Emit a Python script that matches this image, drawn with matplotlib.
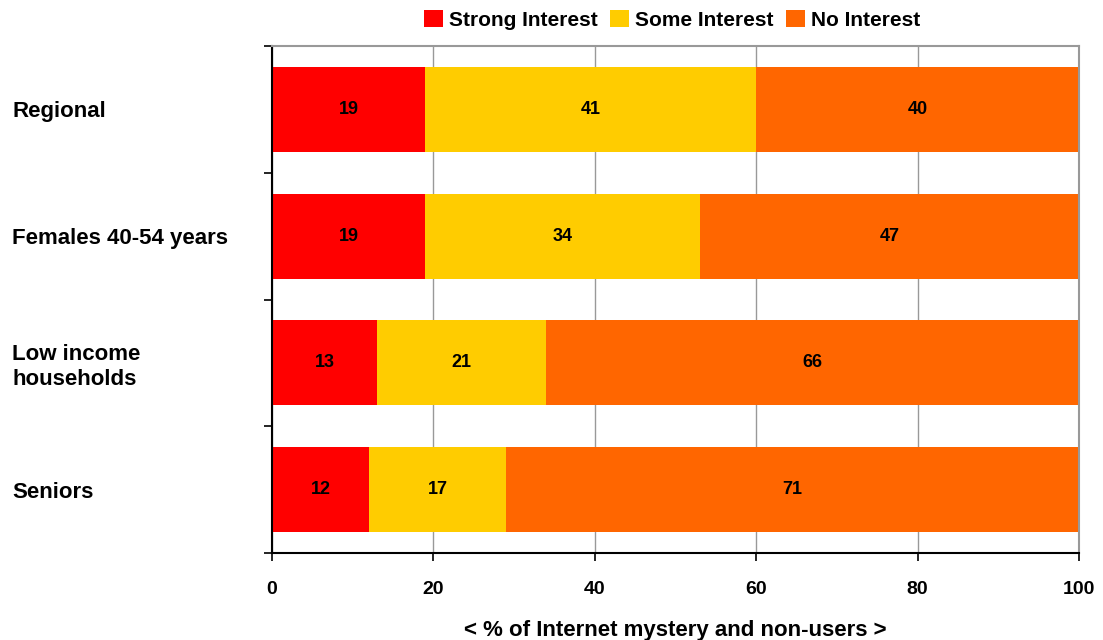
import numpy as np
import matplotlib.pyplot as plt

plt.rcParams['font.family'] = ['Liberation Sans', 'DejaVu Sans']
plt.rcParams['font.weight'] = 'bold'

# data
groups = ['Regional', 'Females 40-54 years', 'Low income\nhouseholds', 'Seniors']
strong = [19, 19, 13, 12]
some = [41, 34, 21, 17]
none_ = [40, 47, 66, 71]
series = [('Strong Interest', strong, '#FF0000'),
          ('Some Interest', some, '#FFCC00'),
          ('No Interest', none_, '#FF6600')]

fig = plt.figure(figsize=(11.03, 6.4), dpi=100)
ax = fig.add_axes([272/1103, 1-553/640, (1079-272)/1103, (553-46)/640])

y = np.arange(len(groups))
left = np.zeros(len(groups))
for name, vals, col in series:
    vals = np.array(vals)
    ax.barh(y, vals, left=left, height=0.67, color=col, label=name, zorder=2)
    for yi, l, v in zip(y, left, vals):
        ax.text(l + v / 2, yi, str(v), ha='center', va='center',
                fontsize=13, fontweight='bold', color='black', zorder=3)
    left += vals

ax.set_xlim(0, 100)
ax.set_ylim(len(groups) - 0.5, -0.5)
ax.set_xticks([0, 20, 40, 60, 80, 100])
ax.tick_params(axis='x', labelsize=14, length=6, width=1.2, direction='out', pad=14)
ax.grid(axis='x', color='#999999', linewidth=1, zorder=0)

# y ticks at boundaries, labels at centers
ax.set_yticks(np.arange(len(groups) + 1) - 0.5)
ax.set_yticklabels([])
ax.tick_params(axis='y', which='major', length=6, width=1.2, direction='out')
ax.set_yticks(y, minor=True)
ax.set_yticklabels(groups, minor=True, fontsize=16, fontweight='bold', ha='left')
ax.tick_params(axis='y', which='minor', length=0, pad=260 * 0.72)

for s in ['left', 'bottom']:
    ax.spines[s].set_color('black')
    ax.spines[s].set_linewidth(1.5)
for s in ['top', 'right']:
    ax.spines[s].set_color('#999999')
    ax.spines[s].set_linewidth(1.5)

ax.set_xlabel('< % of Internet mystery and non-users >', fontsize=16,
              fontweight='bold', labelpad=16)

fig.legend(loc='center', bbox_to_anchor=(672/1103, 1-20/640), ncol=3,
           frameon=False, fontsize=15, handlelength=0.9, handleheight=0.9,
           handletextpad=0.3, columnspacing=0.6, borderaxespad=0)

fig.savefig('out.png', dpi=100)
